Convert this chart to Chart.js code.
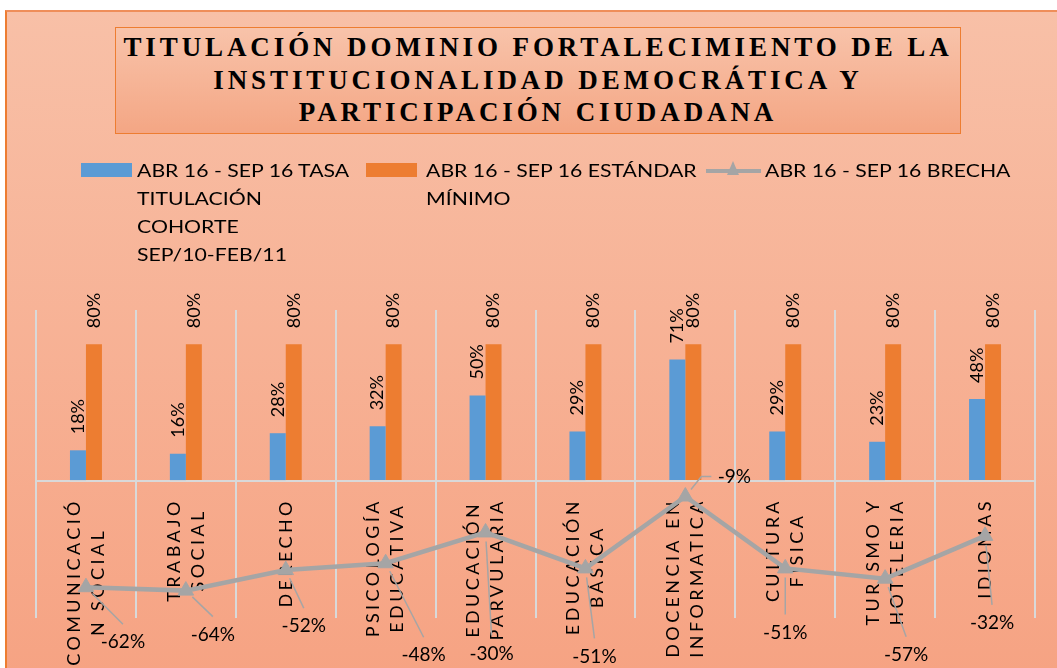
<!DOCTYPE html>
<html lang="es">
<head>
<meta charset="utf-8">
<script src="https://cdn.jsdelivr.net/npm/chart.js@4.4.1/dist/chart.umd.min.js"></script>
<style>
  html, body { margin: 0; padding: 0; background: #fff; }
  body { width: 1057px; height: 668px; position: relative; overflow: hidden; font-family: Lato, "Noto Sans", sans-serif; color: #000; }
  #frame {
    position: absolute; left: 5px; top: 10px; right: -4px; bottom: -4px;
    background: linear-gradient(#f8c0a7, #f6a383);
    border-top: 2px solid #ef8e5a; border-left: 2px solid #ed7d31;
  }
  #chart { position: absolute; left: 0; top: 0; }
  #title {
    position: absolute; left: 115px; top: 27px; width: 844px; height: 102px;
    padding-top: 3px;
    border: 1.5px solid #ed7d31;
    background: linear-gradient(#f8c3aa, #f4a684);
    font: bold 27px "Liberation Serif", "DejaVu Serif", serif;
    letter-spacing: 3.9px; line-height: 32.5px; text-align: center;
  }
  .lg-swatch { position: absolute; width: 51px; height: 14px; }
  .lg-line { position: absolute; width: 55px; height: 4px; background: #a5a5a5; }
  .lg-line::after {
    content: ""; position: absolute; left: 21px; top: -8px;
    border-left: 6px solid transparent; border-right: 6px solid transparent;
    border-bottom: 14px solid #a5a5a5;
  }
  .lg-text {
    position: absolute; font-size: 18px; line-height: 28px; white-space: nowrap;
    transform: scaleX(1.18); transform-origin: left top;
  }
</style>
</head>
<body>
<div id="frame"></div>
<canvas id="chart" width="1057" height="668"></canvas>
<div id="title">TITULACIÓN DOMINIO FORTALECIMIENTO DE LA<br>INSTITUCIONALIDAD DEMOCRÁTICA Y<br>PARTICIPACIÓN CIUDADANA</div>
<div id="legend"></div>
<script>
// carreras (nombres partidos en renglones como en el eje)
const categories = [
  ['COMUNICACIÓ', 'N SOCIAL'],
  ['TRABAJO', 'SOCIAL'],
  ['DERECHO'],
  ['PSICOLOGÍA', 'EDUCATIVA'],
  ['EDUCACIÓN', 'PARVULARIA'],
  ['EDUCACIÓN', 'BÁSICA'],
  ['DOCENCIA EN', 'INFORMATICA'],
  ['CULTURA', 'FÍSICA'],
  ['TURISMO Y', 'HOTELERIA'],
  ['IDIOMAS']
];
const tasaTitulacion = [0.18, 0.16, 0.28, 0.32, 0.50, 0.29, 0.71, 0.29, 0.23, 0.48];
const estandarMinimo = [0.80, 0.80, 0.80, 0.80, 0.80, 0.80, 0.80, 0.80, 0.80, 0.80];
const brecha = [-0.62, -0.64, -0.52, -0.48, -0.30, -0.51, -0.09, -0.51, -0.57, -0.32];

const seriesNames = [
  ['ABR 16 - SEP 16 TASA', 'TITULACIÓN', 'COHORTE', 'SEP/10-FEB/11'],
  ['ABR 16 - SEP 16 ESTÁNDAR', 'MÍNIMO'],
  ['ABR 16 - SEP 16 BRECHA']
];

// desplazamiento de cada etiqueta de la brecha respecto a su punto (px)
const brechaLabelOffsets = [[37, 55], [27, 44], [18, 56], [38, 92], [6, 121], [9, 88], [49, -20], [0, 64], [21, 76], [7, 87]];

const BLUE = '#5b9bd5';
const ORANGE = '#ed7d31';
const GREY = '#a5a5a5';

const pct = v => Math.round(v * 100) + '%';

// nombres de carrera verticales, espaciados, bajo la línea de cero
const categoryLabels = {
  id: 'categoryLabels',
  beforeDatasetsDraw(chart) {
    const ctx = chart.ctx;
    const x = chart.scales.x, y = chart.scales.y;
    const zeroY = y.getPixelForValue(0);
    ctx.save();
    ctx.font = '18px Lato';
    ctx.letterSpacing = '3.4px';
    ctx.fillStyle = '#000';
    ctx.textAlign = 'center';
    ctx.textBaseline = 'middle';
    categories.forEach((lines, i) => {
      const cx = x.getPixelForValue(i);
      const maxW = Math.max(...lines.map(l => ctx.measureText(l).width));
      const midY = zeroY + 17 + maxW / 2;
      lines.forEach((line, j) => {
        ctx.save();
        ctx.translate(cx + (j - (lines.length - 1) / 2) * 24, midY);
        ctx.rotate(-Math.PI / 2);
        ctx.fillText(line, 0, 0);
        ctx.restore();
      });
    });
    ctx.restore();
  }
};

// etiquetas de valor: verticales en barras, con guía en la brecha
const valueLabels = {
  id: 'valueLabels',
  afterDatasetsDraw(chart) {
    const ctx = chart.ctx;
    ctx.save();
    ctx.fillStyle = '#000';
    ctx.font = '18px Lato';
    [0, 1].forEach(di => {
      chart.getDatasetMeta(di).data.forEach((bar, i) => {
        ctx.save();
        ctx.translate(bar.x, bar.y - 16);
        ctx.rotate(-Math.PI / 2);
        ctx.textAlign = 'left';
        ctx.textBaseline = 'middle';
        ctx.fillText(pct(chart.data.datasets[di].data[i]), 0, 0);
        ctx.restore();
      });
    });

    ctx.font = '19px Lato';
    ctx.strokeStyle = GREY;
    ctx.lineWidth = 1.5;
    ctx.textAlign = 'center';
    ctx.textBaseline = 'middle';
    chart.getDatasetMeta(2).data.forEach((pt, i) => {
      const [dx, dy] = brechaLabelOffsets[i];
      const lx = pt.x + dx, ly = pt.y + dy;
      ctx.beginPath();
      if (dy > 0) {
        const ex = lx, ey = ly - 18;
        const len = Math.hypot(ex - pt.x, ey - pt.y);
        ctx.moveTo(pt.x + (ex - pt.x) / len * 9, pt.y + (ey - pt.y) / len * 9);
        ctx.lineTo(ex, ey);
      } else {
        const ex = lx - 33, ey = ly;
        const len = Math.hypot(ex - pt.x, ey - pt.y);
        ctx.moveTo(pt.x + (ex - pt.x) / len * 9, pt.y + (ey - pt.y) / len * 9);
        ctx.lineTo(ex, ey);
        ctx.lineTo(lx - 23, ey);
      }
      ctx.stroke();
      ctx.fillText(pct(brecha[i]), lx, ly);
    });
    ctx.restore();
  }
};

const chart = new Chart(document.getElementById('chart'), {
  type: 'bar',
  data: {
    labels: categories,
    datasets: [
      {
        label: seriesNames[0].join(' '),
        data: tasaTitulacion,
        backgroundColor: BLUE,
        barPercentage: 1,
        categoryPercentage: 0.32,
        order: 2
      },
      {
        label: seriesNames[1].join(' '),
        data: estandarMinimo,
        backgroundColor: ORANGE,
        barPercentage: 1,
        categoryPercentage: 0.32,
        order: 2
      },
      {
        type: 'line',
        label: seriesNames[2].join(' '),
        data: brecha,
        borderColor: GREY,
        backgroundColor: GREY,
        borderWidth: 4.5,
        pointStyle: 'triangle',
        pointRadius: 9,
        pointBorderWidth: 1,
        tension: 0,
        order: 1
      }
    ]
  },
  options: {
    responsive: false,
    devicePixelRatio: 1,
    animation: false,
    layout: { padding: { left: 36, right: 22, top: 310, bottom: 50 } },
    plugins: {
      legend: { display: false },
      title: { display: false },
      tooltip: { enabled: false }
    },
    scales: {
      x: {
        ticks: { display: false },
        border: { display: false },
        grid: { color: '#d9d9d9', lineWidth: 2, drawTicks: false, offset: true }
      },
      y: {
        min: -0.8,
        max: 1.0,
        ticks: { display: false, stepSize: 0.2, padding: 0 },
        border: { display: false },
        grid: {
          drawTicks: false,
          lineWidth: 2,
          color: c => (Math.abs(c.tick.value) < 1e-9 ? '#d9d9d9' : 'rgba(0,0,0,0)')
        }
      }
    }
  },
  plugins: [categoryLabels, valueLabels]
});

// leyenda construida a partir de las series
const legend = document.getElementById('legend');
const markLeft = [81, 366, 706];
const textLeft = [137, 426, 765];
chart.data.datasets.forEach((ds, i) => {
  const mark = document.createElement('div');
  if (ds.type === 'line') {
    mark.className = 'lg-line';
    mark.style.left = markLeft[i] + 'px';
    mark.style.top = '169px';
  } else {
    mark.className = 'lg-swatch';
    mark.style.background = ds.backgroundColor;
    mark.style.left = markLeft[i] + 'px';
    mark.style.top = '163px';
  }
  legend.appendChild(mark);
  const text = document.createElement('div');
  text.className = 'lg-text';
  text.style.left = textLeft[i] + 'px';
  text.style.top = '156px';
  text.innerHTML = seriesNames[i].join('<br>');
  legend.appendChild(text);
});
</script>
</body>
</html>
